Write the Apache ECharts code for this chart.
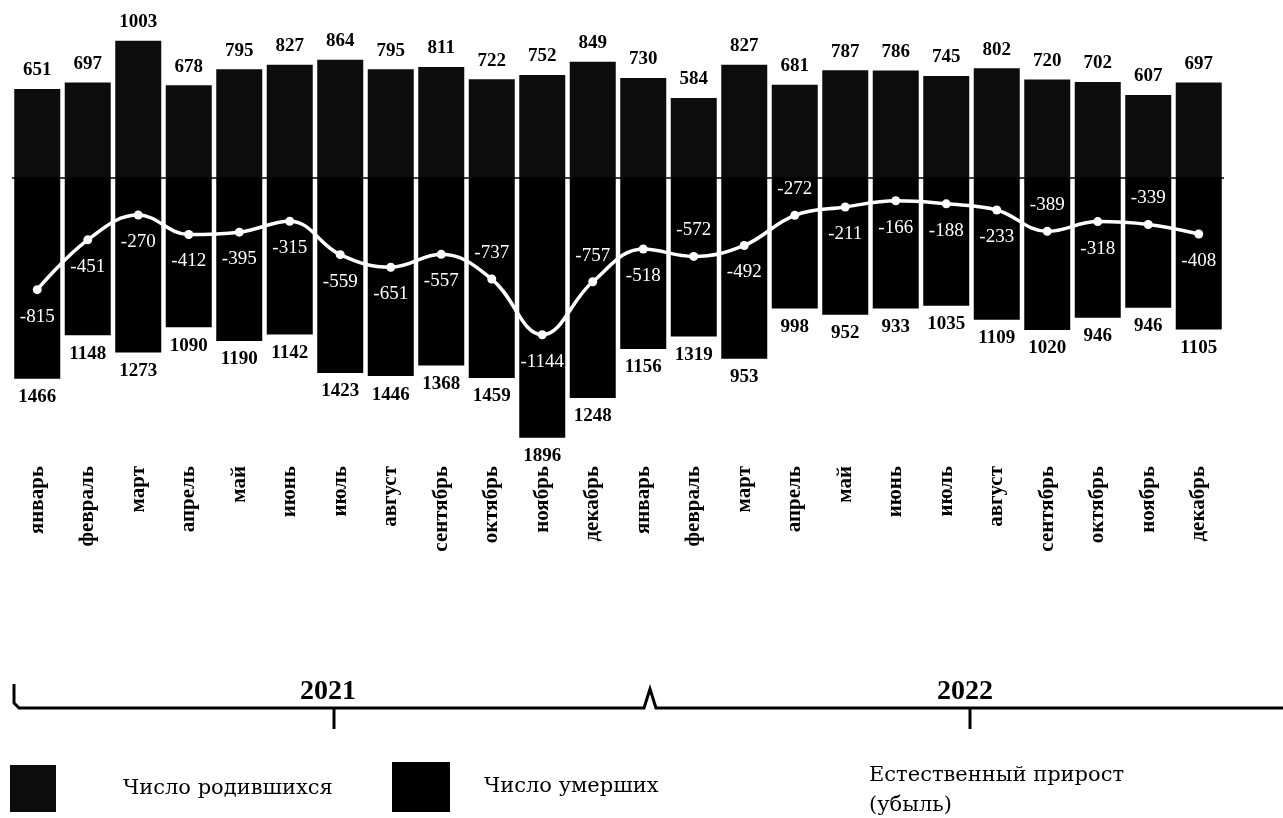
<!DOCTYPE html>
<html>
<head>
<meta charset="utf-8">
<script src="https://cdn.jsdelivr.net/npm/echarts@6/dist/echarts.min.js"></script>
<style>
  html, body { margin: 0; padding: 0; background: #fff; }
  #chart { width: 1283px; height: 818px; }
</style>
</head>
<body>
<div id="chart"></div>
<script>
// ---- data ----
const months = ['январь','февраль','март','апрель','май','июнь','июль','август','сентябрь','октябрь','ноябрь','декабрь',
                'январь','февраль','март','апрель','май','июнь','июль','август','сентябрь','октябрь','ноябрь','декабрь'];
const births = [651,697,1003,678,795,827,864,795,811,722,752,849,730,584,827,681,787,786,745,802,720,702,607,697];
const deaths = [1466,1148,1273,1090,1190,1142,1423,1446,1368,1459,1896,1606,1248,1156,1319,953,998,952,933,1035,1109,1020,946,1105];
const deathLabels = [1466,1148,1273,1090,1190,1142,1423,1446,1368,1459,1896,1248,1156,1319,953,998,952,933,1035,1109,1020,946,946,1105];
const growth = [-815,-451,-270,-412,-395,-315,-559,-651,-557,-737,-1144,-757,-518,-572,-492,-272,-211,-166,-188,-233,-389,-318,-339,-408];
const years = ['2021','2022'];

// ---- layout ----
const labelAbove = [9, 11, 13, 15, 20, 22];
const serif = 'Liberation Serif';

const chart = echarts.init(document.getElementById('chart'));
chart.setOption({
  animation: false,
  backgroundColor: '#fff',
  grid: { left: 12, right: 59, top: 0, bottom: 366 },
  xAxis: {
    type: 'category',
    data: months,
    axisLine: { show: false },
    axisTick: { show: false },
    axisLabel: { rotate: 90, margin: 14, fontSize: 21, fontWeight: 'bold', fontFamily: serif, color: '#000', interval: 0 }
  },
  yAxis: { type: 'value', min: -2000, max: 1300, show: false },
  legend: [
    { data: ['Число родившихся'], left: 10, top: 765, padding: 0, itemWidth: 46, itemHeight: 47, icon: 'rect',
      selectedMode: false,
      textStyle: { fontFamily: 'DejaVu Serif', fontSize: 21, color: '#000', padding: [0, 0, 0, 62] } },
    { data: ['Число умерших'], left: 392, top: 762, padding: 0, itemWidth: 58, itemHeight: 50, icon: 'rect',
      selectedMode: false,
      textStyle: { fontFamily: 'DejaVu Serif', fontSize: 21, color: '#000', padding: [0, 0, 0, 29] } },
    { data: ['Естественный прирост (убыль)'], left: 853, top: 761, padding: 0, itemWidth: 10, itemHeight: 10,
      selectedMode: false,
      formatter: () => 'Естественный прирост\n(убыль)',
      textStyle: { fontFamily: 'DejaVu Serif', fontSize: 21, color: '#000', lineHeight: 30 } }
  ],
  graphic: [
    { type: 'polyline', shape: { points: [[14, 684], [14, 703], [19, 708], [644, 708], [650, 689], [656, 708], [1283, 708]] },
      style: { stroke: '#000', lineWidth: 3, fill: null } },
    { type: 'line', shape: { x1: 334, y1: 708, x2: 334, y2: 729 }, style: { stroke: '#000', lineWidth: 3 } },
    { type: 'line', shape: { x1: 970, y1: 708, x2: 970, y2: 729 }, style: { stroke: '#000', lineWidth: 3 } },
    { type: 'text', left: 300, top: 678, style: { text: years[0], font: 'bold 28px "Liberation Serif"', fill: '#000' } },
    { type: 'text', left: 937, top: 678, style: { text: years[1], font: 'bold 28px "Liberation Serif"', fill: '#000' } }
  ],
  series: [
    {
      name: 'Число родившихся',
      type: 'bar',
      stack: 'total',
      barWidth: 46,
      data: births,
      itemStyle: { color: '#0c0c0c' },
      label: { show: true, position: 'top', distance: 9, fontFamily: serif, fontWeight: 'bold', fontSize: 19, color: '#000' },
      markLine: {
        silent: true,
        symbol: 'none',
        label: { show: false },
        lineStyle: { color: '#000', width: 1.5, type: 'solid' },
        data: [{ yAxis: 0 }]
      }
    },
    {
      name: 'Число умерших',
      type: 'bar',
      stack: 'total',
      barWidth: 46,
      data: deaths.map(v => -v),
      itemStyle: { color: '#000' },
      label: { show: true, position: 'bottom', distance: 9, fontFamily: serif, fontWeight: 'bold', fontSize: 19, color: '#000',
               formatter: p => String(deathLabels[p.dataIndex]) }
    },
    {
      name: 'Естественный прирост (убыль)',
      type: 'line',
      smooth: 0.4,
      z: 10,
      data: growth.map((v, i) => labelAbove.includes(i) ? { value: v, label: { position: 'top', distance: 12 } } : v),
      symbol: 'circle',
      symbolSize: 9,
      lineStyle: { color: '#fff', width: 3.5 },
      itemStyle: { color: '#fff' },
      label: { show: true, position: 'bottom', distance: 13, fontFamily: serif, fontSize: 19, color: '#fff' }
    }
  ]
});
</script>
</body>
</html>
